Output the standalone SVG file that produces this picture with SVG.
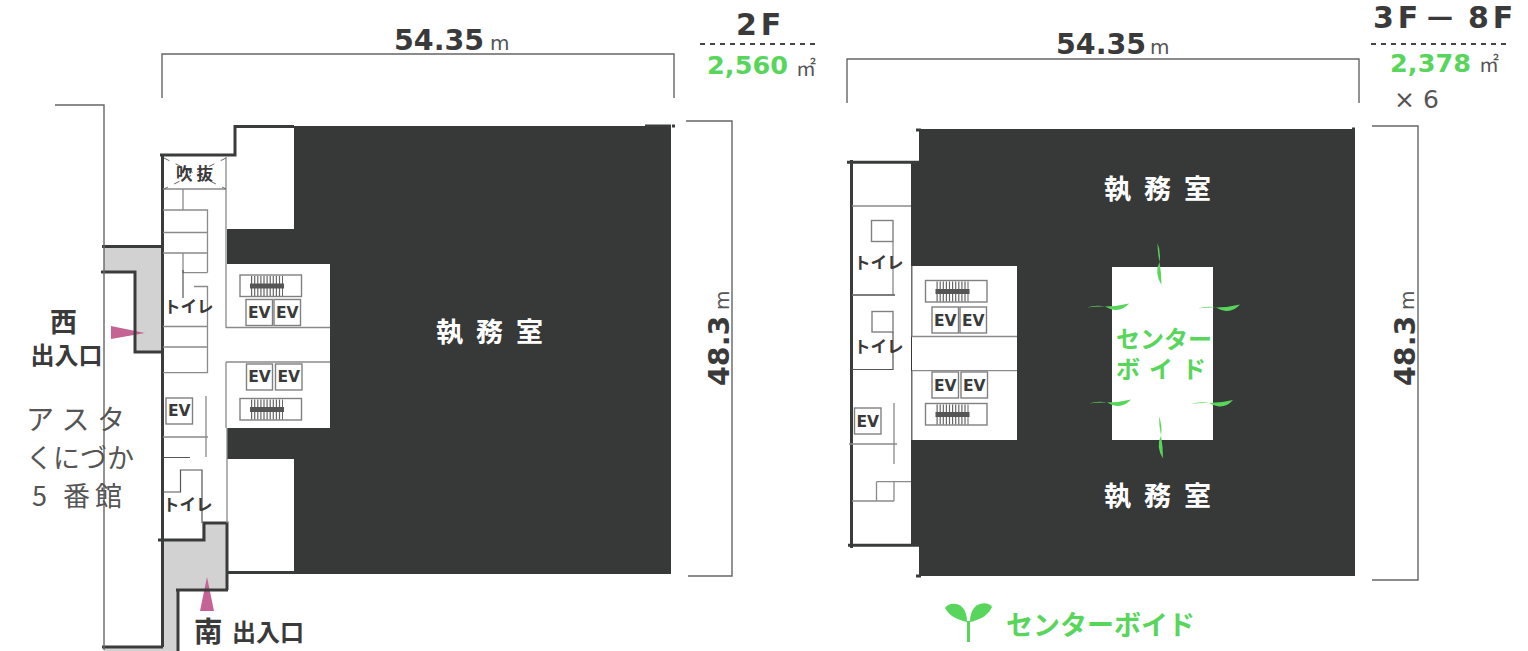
<svg xmlns="http://www.w3.org/2000/svg" xmlns:xlink="http://www.w3.org/1999/xlink" width="1528" height="651" viewBox="0 0 1528 651">
<style>
text{font-family:"DejaVu Sans","Noto Sans CJK JP",sans-serif;fill:#3a3a3a}
.jp{font-family:"Noto Sans CJK JP","Noto Sans",sans-serif}
.b{font-weight:700}
.num{font-size:28.5px;font-weight:700}
.floor{font-size:30px;font-weight:700}
.area{font-size:25.500px;font-weight:700;letter-spacing:.1px}
.unit{font-size:20px;fill:#555}
.soft{fill:#555}
.green{fill:#58d65c}
.white{fill:#fff}
.ev{font-size:15.5px;font-weight:700;text-anchor:middle}
.toilet{font-size:16.500px;font-weight:700;font-family:"Noto Sans CJK JP",sans-serif}
.thick{fill:none;stroke:#3a3c3b;stroke-width:3}
.thin{fill:none;stroke:#8a8a8a;stroke-width:1.3}
.thind{fill:none;stroke:#555;stroke-width:1.2}
.dim{fill:none;stroke:#666;stroke-width:1.4}
.box{fill:#fff;stroke:#808080;stroke-width:1.4}
.dash{fill:none;stroke:#444;stroke-width:2;stroke-dasharray:5 5}
.dark{fill:#373938}
.lobby{fill:#d2d2d2}
.pink{fill:#c46394}
.leaf{fill:#58d65c}
</style>
<defs>
<g id="stair">
<rect class="box" x="0" y="0" width="61.500" height="21.500"/>
<path d="M11 11H43" fill="none" stroke="#666" stroke-width="20" stroke-dasharray="1.200 1.900"/>
<rect x="10" y="8.500" width="34" height="5" fill="#555"/>
</g>
<g id="hleaf">
<path class="leaf" d="M0 0Q9-3 18-1Q9-1.500 0 0Z"/>
<path class="leaf" d="M18-1Q30-1 42-4Q36 3 28 2.500Q22 1.500 18-1Z"/>
</g>
<g id="vleaf">
<path class="leaf" d="M0 0Q3.500 9 2 19Q0 9 0 0Z"/>
<path class="leaf" d="M2 19Q-3.500 30 4 42Q4 30 2 19Z"/>
</g>
</defs>

<g id="plan-2f">
<path class="dark" d="M294 126H671V574H294V459H227V428H294V264H227V229H294Z"/>
<rect x="227" y="264" width="103" height="164" fill="#fff"/>
<path class="lobby" d="M104 246H162V352H135V272H104Z"/>
<path class="lobby" d="M163 540H202V523H227V590H178V651H163Z"/>
<path class="lobby" d="M104 648H163V651H104Z"/>
<path class="pink" d="M111 326L145 333L111 339Z"/>
<path class="pink" d="M207 577L214 611H200Z"/>
<g id="walls-2f">
<path class="thick" d="M162.500 155V647M160 155H235V126.500H294M102 246.500H162M101 272H135V352H162M158 540H204V523H227V590M227 572.500H295M176 590H228M178 590V651M102 647H163M645 126H671M672 126H675"/>
<path class="dim" d="M55 105H104V650"/>
<path class="thin" d="M226 157V328M226 327.500H330M226 362H330M226 362V428M227 428V523M163 189H226"/>
<path class="thin" d="M183 189V210M163 210H207.500V272.600M163 232.500H207.500M163 253H207.500M183 253V272.600H207.500M194 286.500H207.500V372.600H163M163 326.500H207.500M163 347H207.500"/>
<path class="thind" d="M183 270V298M163 457.500H190M163 492H180.500V470H202V523"/>
<path class="thin" d="M206 396V457M163 437H208"/>
<path d="M164 158L226 189M226 158L164 189" fill="none" stroke="#666" stroke-width="1" stroke-dasharray="6 7"/>
</g>
<g id="void-2f"><text class="jp b" x="176" y="180" font-size="16.500" letter-spacing="4">吹抜</text></g>
<g id="toilet-2f-1"><text class="toilet" x="164" y="313">トイレ</text></g>
<g id="toilet-2f-2"><text class="toilet" x="163" y="511">トイレ</text></g>
<g id="core-2f">
<use xlink:href="#stair" href="#stair" x="240" y="275"/>
<use xlink:href="#stair" href="#stair" x="240" y="398.500"/>
<rect class="box" x="246" y="299.500" width="26.500" height="26"/><text class="ev" x="259.300" y="318">EV</text>
<rect class="box" x="274" y="299.500" width="26.500" height="26"/><text class="ev" x="287.300" y="318">EV</text>
<rect class="box" x="246.500" y="364" width="26" height="26"/><text class="ev" x="259.500" y="382">EV</text>
<rect class="box" x="275.500" y="364" width="26.500" height="26"/><text class="ev" x="288.700" y="382">EV</text>
<rect class="box" x="166" y="398" width="26.500" height="26"/><text class="ev" x="179.300" y="416">EV</text>
</g>
<g id="labels-2f">
<text class="jp b white" x="436" y="342" font-size="27" letter-spacing="13">執務室</text>
<text class="jp b"><tspan x="50" y="332" font-size="27">西</tspan><tspan x="30.500" y="364" font-size="24">出入口</tspan></text>
<text class="jp b" x="194" y="642" font-size="28.500">南</text>
<text class="jp b" x="232" y="641" font-size="24">出入口</text>
<text class="jp soft" x="26" y="430" font-size="28" letter-spacing="7.500">アスタ</text>
<text class="jp soft" x="26" y="468" font-size="27">くにづか</text>
<text class="jp soft" x="32" y="506" font-size="27" letter-spacing="5">5 番館</text>
</g>
</g>

<g id="plan-3f">
<path class="dark" d="M919 129H1355V576H919V545H911V161H919Z"/>
<rect x="912" y="266" width="105" height="174" fill="#fff"/>
<rect x="1112" y="267" width="101" height="173" fill="#fff"/>
<g id="walls-3f">
<path class="thick" d="M851.500 160V548M847 162.300H919M848 545.300H919M916 130H921M916 576H921M1352 129H1355"/>
<path class="thin" d="M852 206H911M912 266V336.500H1017M912 370.700H1017M912 370.700V440M893 241.500V295M852 295H895"/>
<rect class="box" fill="none" x="871.500" y="220.500" width="21.500" height="21"/>
<rect class="box" x="872" y="311.500" width="21" height="20.500"/>
<path class="thind" d="M893 332V369.500H852M852 295H895"/>
<path class="thin" d="M894 403V464M849 444H897M852 501H894M876.500 481.700H911M876.500 481.700V501M894 481.700V501"/>
</g>
<g id="toilet-3f-1"><text class="toilet" x="854" y="269">トイレ</text></g>
<g id="toilet-3f-2"><text class="toilet" x="854" y="353">トイレ</text></g>
<g id="core-3f">
<use xlink:href="#stair" href="#stair" x="925.500" y="280.500"/>
<use xlink:href="#stair" href="#stair" x="925.500" y="403.500"/>
<rect class="box" x="932" y="307" width="26.500" height="26"/><text class="ev" x="945.300" y="325.500">EV</text>
<rect class="box" x="960" y="307" width="26.500" height="26"/><text class="ev" x="973.300" y="325.500">EV</text>
<rect class="box" x="932" y="372" width="26.500" height="26"/><text class="ev" x="945.300" y="390.500">EV</text>
<rect class="box" x="961" y="372" width="26.500" height="26"/><text class="ev" x="974.300" y="390.500">EV</text>
<rect class="box" x="854.500" y="408" width="26.500" height="26"/><text class="ev" x="867.700" y="426.500">EV</text>
</g>
<g id="leaves">
<use xlink:href="#hleaf" href="#hleaf" x="1087" y="307.500"/>
<use xlink:href="#hleaf" href="#hleaf" x="1198" y="308.500"/>
<use xlink:href="#hleaf" href="#hleaf" x="1089" y="403.500"/>
<use xlink:href="#hleaf" href="#hleaf" x="1191" y="404"/>
<use xlink:href="#vleaf" href="#vleaf" x="1157.500" y="243"/>
<use xlink:href="#vleaf" href="#vleaf" x="1159" y="416.500"/>
</g>
<g id="labels-3f">
<text class="jp b white" x="1104" y="199" font-size="27" letter-spacing="13">執務室</text>
<text class="jp b white" x="1104" y="506" font-size="27" letter-spacing="13">執務室</text>
<text class="jp b green" font-size="24"><tspan x="1116" y="348">センター</tspan><tspan x="1116" y="378" letter-spacing="9">ボイド</tspan></text>
</g>
</g>

<g id="dimensions">
<path class="dim" d="M162 98V54H674V98M686 121H732V576H688"/>
<path class="dim" d="M847 103V59H1359V103M1372 126H1418V580H1372"/>
<text class="num" x="394" y="49.500">54.35</text><text class="unit" x="490" y="49.500">m</text>
<text class="num" x="1056" y="54">54.35</text><text class="unit" x="1150" y="54">m</text>
<text class="num" transform="translate(728.500 386) rotate(-90)">48.3</text><text class="unit" transform="translate(729 310) rotate(-90)">m</text>
<text class="num" transform="translate(1415 386) rotate(-90)">48.3</text><text class="unit" transform="translate(1414 310) rotate(-90)">m</text>
</g>

<g id="area-2f">
<text class="floor" x="736" y="35" letter-spacing="4">2F</text>
<path class="dash" d="M700 44H815"/>
<text class="area green" x="707" y="74">2,560</text>
<text class="jp unit" x="796" y="76" font-size="20">㎡</text>
</g>
<g id="area-3f">
<text class="floor" x="1373" y="28" letter-spacing="4">3F</text>
<text class="b" x="1427" y="26" font-size="26">—</text>
<text class="floor" x="1468" y="28" letter-spacing="4">8F</text>
<path class="dash" d="M1371 44H1511"/>
<text class="area green" x="1390" y="72">2,378</text>
<text class="jp unit" x="1479" y="72" font-size="20">㎡</text>
<text class="soft" x="1394" y="108" font-size="25">× 6</text>
</g>

<g id="legend">
<path class="leaf" d="M967 642V621H970V642Z"/>
<path class="leaf" d="M967 622C958 620 949 616 945 608C948 603 957 602 962 607C966 611 967 617 967 622Z"/>
<path class="leaf" d="M970 622C979 620 988 616 992 607C989 602 980 602 975 607C971 611 970 617 970 622Z"/>
<text class="jp b green" x="1006" y="635" font-size="27">センターボイド</text>
</g>
</svg>
